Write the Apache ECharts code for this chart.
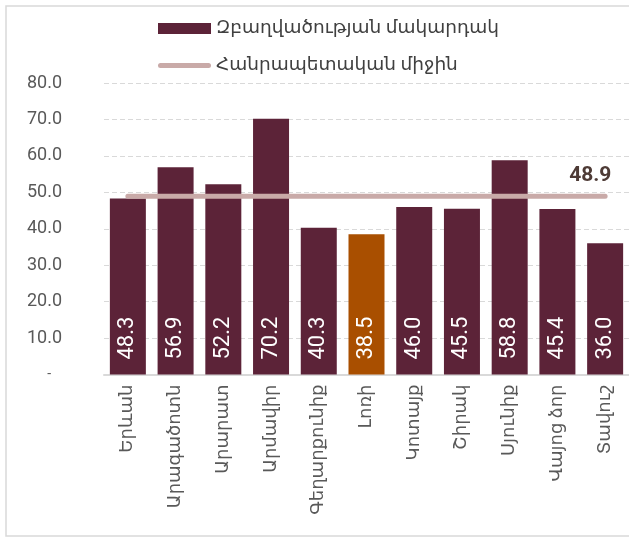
<!DOCTYPE html>
<html>
<head>
<meta charset="utf-8">
<script src="https://cdn.jsdelivr.net/npm/echarts@6/dist/echarts.min.js"></script>
<style>
  html, body { margin: 0; padding: 0; background: #fff; }
  #chart { width: 629px; height: 538px; }
</style>
</head>
<body>
<div id="chart"></div>
<script>
// data
const regions = ['Երևան', 'Արագածոտն', 'Արարատ', 'Արմավիր', 'Գեղարքունիք', 'Լոռի', 'Կոտայք', 'Շիրակ', 'Սյունիք', 'Վայոց ձոր', 'Տավուշ']
const employment = [48.3, 56.9, 52.2, 70.2, 40.3, 38.5, 46.0, 45.5, 58.8, 45.4, 36.0]
const republicAvg = 48.9
const highlightRegion = 'Լոռի'
const barName = 'Զբաղվածության մակարդակ'
const lineName = 'Հանրապետական միջին'

const font = 'Roboto, "DejaVu Sans", sans-serif'
const myChart = echarts.init(document.getElementById('chart'))

// thick line legend icon (extra move points keep the box 53x11)
const lineIcon = 'path://M0,0 M53,11 M2.5,3 L50.5,3 A2.5,2.5 0 0 1 50.5,8 L2.5,8 A2.5,2.5 0 0 1 2.5,3 Z'

const option = {
  animation: false,
  textStyle: { fontFamily: font },
  graphic: [{
    type: 'rect',
    shape: { x: 6, y: 6, width: 660, height: 530 },
    style: { fill: 'none', stroke: '#d9d9d9', lineWidth: 1.5 },
    silent: true
  }],
  legend: {
    orient: 'vertical',
    left: 153,
    top: 14,
    itemWidth: 53,
    itemHeight: 11,
    itemGap: 18,
    textStyle: { color: '#404040', fontSize: 18.5, fontFamily: font },
    data: [
      { name: barName, icon: 'rect' },
      { name: lineName, icon: lineIcon, itemStyle: { color: '#c9aaa8', borderWidth: 0 } }
    ]
  },
  grid: {
    left: 104,
    top: 83,
    width: 530,
    height: 291.5
  },
  xAxis: {
    type: 'category',
    data: regions,
    axisTick: { show: false },
    axisLine: { lineStyle: { color: '#d9d9d9', width: 2 } },
    axisLabel: {
      rotate: 90,
      color: '#595959',
      fontSize: 18,
      margin: 10,
      interval: 0
    }
  },
  yAxis: {
    type: 'value',
    min: 0,
    max: 80,
    interval: 10,
    axisLine: { show: false },
    axisTick: { show: false },
    axisLabel: {
      color: '#595959',
      fontSize: 18,
      margin: 42,
      formatter(val) {
        return val === 0 ? '{d|-}' : val.toFixed(1)
      },
      rich: { d: { fontSize: 14, color: '#595959', padding: [0, 11, 0, 0] } }
    },
    splitLine: {
      lineStyle: { color: '#d9d9d9', type: [5, 3], width: 1 }
    }
  },
  series: [{
    name: barName,
    type: 'bar',
    barWidth: 36,
    itemStyle: { color: '#5c2338' },
    data: employment.map((v, i) => ({
      value: v,
      itemStyle: regions[i] === highlightRegion ? { color: '#a94f00' } : undefined
    })),
    label: {
      show: true,
      position: 'insideBottom',
      rotate: 90,
      align: 'left',
      verticalAlign: 'middle',
      distance: 15,
      color: '#fff',
      fontSize: 22,
      formatter: p => p.value.toFixed(1)
    }
  }, {
    name: lineName,
    type: 'line',
    symbol: 'none',
    lineStyle: { color: '#c9aaa8', width: 5, cap: 'round' },
    itemStyle: { color: '#c9aaa8' },
    z: 3,
    data: regions.map(() => republicAvg),
    endLabel: {
      show: true,
      offset: [-44, -21],
      color: '#4e3b36',
      fontSize: 21,
      fontWeight: 'bold',
      formatter: p => p.value.toFixed(1)
    }
  }]
}
myChart.setOption(option)
</script>
</body>
</html>
